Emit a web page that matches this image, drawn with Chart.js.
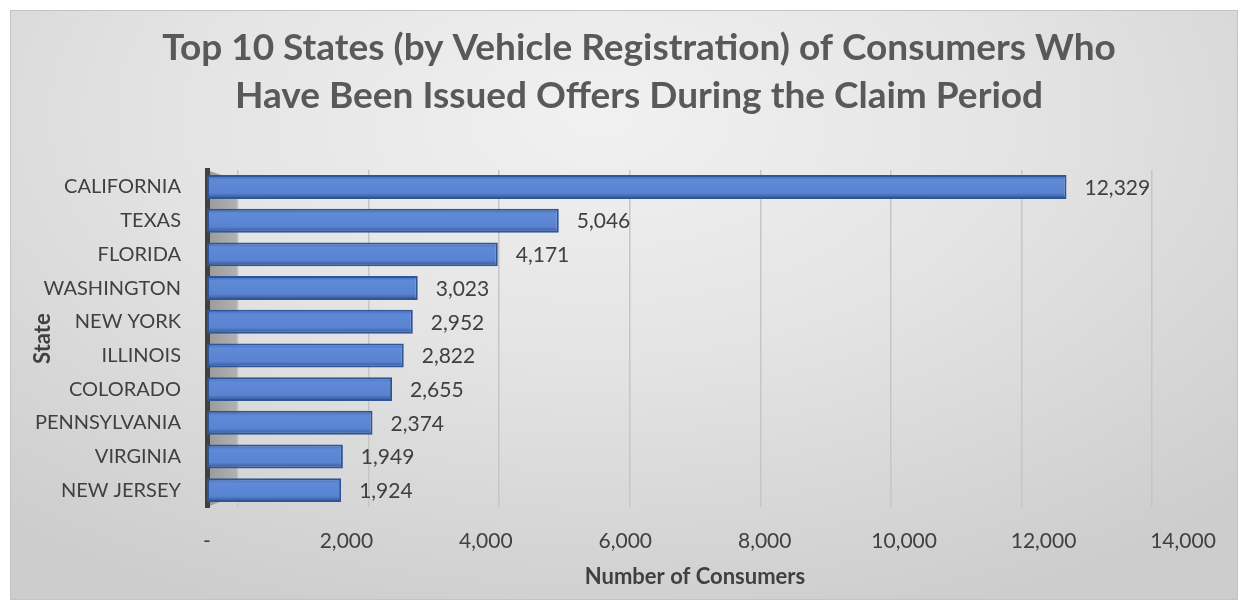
<!DOCTYPE html>
<html>
<head>
<meta charset="utf-8">
<script src="https://cdn.jsdelivr.net/npm/chart.js@4.4.0/dist/chart.umd.min.js"></script>
<style>
  html, body { margin: 0; padding: 0; background: #ffffff; }
  #wrap {
    position: absolute; left: 0; top: 0; width: 1248px; height: 610px;
    overflow: hidden;
  }
  #frame {
    position: absolute; left: 10px; top: 10px; width: 1228px; height: 590px;
    box-sizing: border-box; border: 1px solid #c4c4c4;
    background: radial-gradient(ellipse 75% 90% at 48% 18%, #f1f1f1 0%, #e4e4e4 45%, #cdcdcd 100%);
  }
  canvas { position: absolute; left: 0; top: 0; }
</style>
</head>
<body>
<div id="wrap">
  <div id="frame"></div>
  <canvas id="c" width="1248" height="610"></canvas>
</div>
<script>
const categories = ["CALIFORNIA", "TEXAS", "FLORIDA", "WASHINGTON", "NEW YORK", "ILLINOIS", "COLORADO", "PENNSYLVANIA", "VIRGINIA", "NEW JERSEY"];
const consumers = [12329, 5046, 4171, 3023, 2952, 2822, 2655, 2374, 1949, 1924];
const xTickValues = [0, 2000, 4000, 6000, 8000, 10000, 12000, 14000];
const titleLines = ["Top 10 States (by Vehicle Registration) of Consumers Who", "Have Been Issued Offers During the Claim Period"];
const xAxisTitle = "Number of Consumers";
const yAxisTitle = "State";

const FONT = "Lato, 'Open Sans', sans-serif";
const TEXT = "#404040";

const plotBg = {
  id: 'plotBg',
  beforeDraw(chart) {
    const {ctx, chartArea: a} = chart;
    if (!a) return;
    ctx.save();
    const w = ctx.createLinearGradient(a.left, 0, a.left + 31, 0);
    w.addColorStop(0, '#9a9a9a');
    w.addColorStop(1, '#b2b2b2');
    ctx.fillStyle = w;
    ctx.beginPath();
    ctx.moveTo(a.left, a.top);
    ctx.lineTo(a.left + 31, a.top + 10);
    ctx.lineTo(a.left + 31, a.bottom - 12);
    ctx.lineTo(a.left, a.bottom);
    ctx.closePath();
    ctx.fill();
    ctx.restore();
  }
};

const valueLabels = {
  id: 'valueLabels',
  afterDatasetsDraw(chart) {
    const {ctx} = chart;
    const meta = chart.getDatasetMeta(0);
    ctx.save();
    ctx.font = "21px " + FONT;
    ctx.fillStyle = TEXT;
    ctx.textAlign = 'left';
    ctx.textBaseline = 'middle';
    meta.data.forEach((el, i) => {
      const v = chart.data.datasets[0].data[i];
      ctx.fillText(v.toLocaleString('en-US'), el.x + 18, el.y + 1);
    });
    ctx.restore();
  }
};

function barFill(c) {
  const chart = c.chart;
  const ys = chart.scales && chart.scales.y;
  if (!chart.chartArea || !ys || c.dataIndex === undefined) return '#5B84D0';
  const yc = ys.getPixelForValue(c.dataIndex);
  if (!isFinite(yc)) return '#5B84D0';
  const h = 24;
  const g = chart.ctx.createLinearGradient(0, yc - h / 2, 0, yc + h / 2);
  g.addColorStop(0, '#3f69b8');
  g.addColorStop(0.2, '#5f8ad8');
  g.addColorStop(0.75, '#5983d0');
  g.addColorStop(1, '#2d4f8f');
  return g;
}

new Chart(document.getElementById('c'), {
  type: 'bar',
  data: {
    labels: categories,
    datasets: [{
      data: consumers,
      backgroundColor: barFill,
      borderColor: '#2f5597',
      borderWidth: 2,
      borderSkipped: false,
      categoryPercentage: 1,
      barPercentage: 0.71,
      xAxisID: 'x',
      yAxisID: 'y'
    }]
  },
  plugins: [plotBg, valueLabels],
  options: {
    indexAxis: 'y',
    responsive: false,
    animation: false,
    devicePixelRatio: 1,
    layout: { padding: { top: 14, left: 30, right: 0, bottom: 0 } },
    plugins: {
      legend: { display: false },
      tooltip: { enabled: false },
      title: {
        display: true,
        text: titleLines,
        color: '#595959',
        font: { family: FONT, size: 37, weight: 'bold', lineHeight: 1.3 },
        padding: { top: 10, bottom: 50 }
      }
    },
    scales: {
      x: {
        min: 0, max: 14000,
        afterBuildTicks: (s) => { s.ticks = xTickValues.map(v => ({ value: v })); },
        afterFit: (s) => { s.height = 103; },
        ticks: {
          color: TEXT,
          font: { family: FONT, size: 21 },
          padding: 22,
          maxRotation: 0,
          callback: (v) => v === 0 ? '-' : Number(v).toLocaleString('en-US')
        },
        grid: { display: false, drawTicks: false },
        border: { display: false },
        title: {
          display: true, text: xAxisTitle, color: TEXT,
          font: { family: FONT, size: 22, weight: 'bold' },
          padding: { top: 0, bottom: 20 }
        }
      },
      xWall: {
        type: 'linear',
        axis: 'x',
        position: 'top',
        min: -475, max: 14474,
        afterBuildTicks: (s) => { s.ticks = xTickValues.map(v => ({ value: v })); },
        afterFit: (s) => { s.height = 0; },
        ticks: { display: false },
        grid: { display: true, color: '#c6c6c6', lineWidth: 1.5, drawTicks: false },
        border: { display: false }
      },
      y: {
        afterFit: (s) => { s.width = 177; },
        ticks: {
          color: TEXT,
          font: { family: FONT, size: 20 },
          padding: 26
        },
        grid: { display: false, drawTicks: false },
        border: { display: true, color: '#404040', width: 5 },
        title: {
          display: true, text: yAxisTitle, color: TEXT,
          font: { family: FONT, size: 22, weight: 'bold' },
          padding: { top: 0, bottom: 0 }
        }
      },
      yRight: {
        type: 'category',
        labels: categories,
        position: 'right',
        afterFit: (s) => { s.width = 65; },
        ticks: { display: false },
        grid: { display: false, drawTicks: false },
        border: { display: false }
      }
    }
  }
});
</script>
</body>
</html>
